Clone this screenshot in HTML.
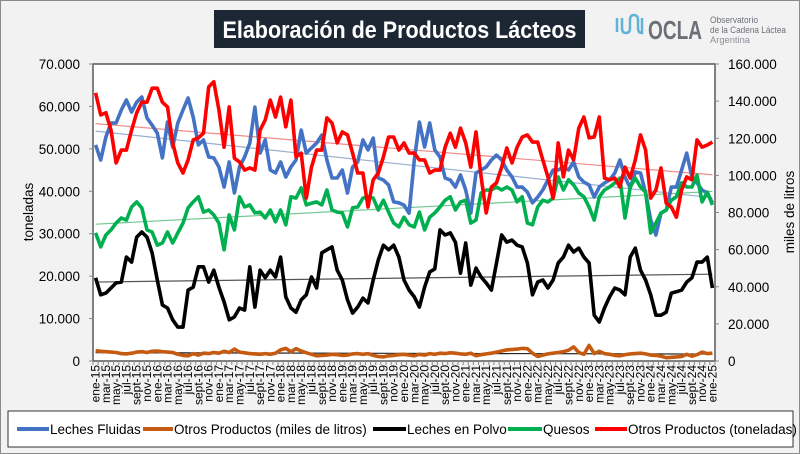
<!DOCTYPE html>
<html><head><meta charset="utf-8"><style>
html,body{margin:0;padding:0;background:#f2f2f2;}
svg{display:block;font-family:"Liberation Sans",sans-serif;}
</style></head><body>
<svg id="chart" width="800" height="454" viewBox="0 0 800 454" xmlns="http://www.w3.org/2000/svg">
<rect x="0.5" y="0.5" width="799" height="453" fill="#f2f2f2" stroke="#8a8a8a"/>
<g>
<rect x="214" y="10" width="371" height="38" fill="#1d2734"/>
<text x="399.5" y="38" text-anchor="middle" fill="#fff" font-size="24" font-weight="bold" textLength="354" lengthAdjust="spacingAndGlyphs">Elaboración de Productos Lácteos</text>
</g>
<g>
<path d="M617 18 v14 M622 18 v10 q0 5 4 5 q4 0 4 -5 v-8 q0 -5 4 -5 q4 0 4 5 v8 q0 5 4 5 v-15" stroke="#5fb3d9" stroke-width="2.5" fill="none"/>
<text x="648" y="39" font-size="26" font-weight="bold" fill="#6b7078" textLength="54" lengthAdjust="spacingAndGlyphs">OCLA</text>
<text x="710" y="23" font-size="9" fill="#6b7078" textLength="48" lengthAdjust="spacingAndGlyphs">Observatorio</text>
<text x="710" y="33" font-size="9" fill="#6b7078" textLength="76" lengthAdjust="spacingAndGlyphs">de la Cadena Láctea</text>
<text x="710" y="43" font-size="9" fill="#8a9098" textLength="40" lengthAdjust="spacingAndGlyphs">Argentina</text>
</g>
<rect x="93" y="64" width="622" height="297" fill="#fff" stroke="#595959" stroke-width="1.5"/>
<g id="axes"></g>
<g id="trends"></g>
<g id="series"></g>
<text transform="translate(33,212) rotate(-90)" text-anchor="middle" font-size="13.5" fill="#000">toneladas</text>
<text transform="translate(794,212) rotate(-90)" text-anchor="middle" font-size="13.5" fill="#000">miles de litros</text>
<g>
<rect x="8" y="411" width="785" height="36" fill="#fff" stroke="#333" stroke-width="1"/>
<g><line x1="17" y1="429" x2="49" y2="429" stroke="#4472C4" stroke-width="4"/><text x="50" y="434" font-size="13.5">Leches Fluidas</text></g>
<g><line x1="143" y1="429" x2="173" y2="429" stroke="#C55A11" stroke-width="4"/><text x="174" y="434" font-size="13.5">Otros Productos (miles de litros)</text></g>
<g><line x1="373" y1="429" x2="406" y2="429" stroke="#000" stroke-width="4"/><text x="407" y="434" font-size="13.5">Leches en Polvo</text></g>
<g><line x1="508" y1="429" x2="542" y2="429" stroke="#00B050" stroke-width="4"/><text x="543" y="434" font-size="13.5">Quesos</text></g>
<g><line x1="595" y1="429" x2="627" y2="429" stroke="#FF0000" stroke-width="4"/><text x="628" y="434" font-size="13.5">Otros Productos (toneladas)</text></g>
</g>
</svg>
<script>
const monthNames = ["ene","feb","mar","abr","may","jun","jul","ago","sept","oct","nov","dic"];
const leftTicks = [0,10000,20000,30000,40000,50000,60000,70000];
const rightTicks = [0,20000,40000,60000,80000,100000,120000,140000,160000];
// values in thousands
const lechesFluidas = [116.4,108.3,120.7,128.2,128.2,135.2,140.6,134.1,139.5,142.2,130.9,127.1,122.8,109.4,128.7,115.3,128.2,135.2,141.7,131.4,116.4,119.1,109.9,109.4,104.5,93.7,107.2,90.5,104.5,109.9,117.4,
136.8,112.0,119.1,102.9,101.3,107.2,99.1,104.5,108.3,124.4,112.0,114.8,117.4,121.7,108.3,98.6,98.6,102.9,90.5,104.5,107.2,119.1,113.7,120.1,98.6,97.5,94.8,85.7,85.2,84.0,
79.7,108.3,128.7,115.3,128.2,113.7,109.9,98.6,97.5,93.7,100.2,92.1,79.7,101.3,102.9,104.5,108.3,110.9,108.3,102.9,99.1,93.7,93.7,91.0,85.2,88.3,92.1,97.5,102.9,102.9,
104.5,102.9,107.2,99.1,96.4,94.8,88.3,93.7,95.9,97.5,101.3,108.3,99.1,93.2,101.8,101.3,90.5,76.0,67.9,79.7,81.3,93.7,93.7,102.9,112.0,99.1,95.9,92.1,90.5,85.2];
const otrosLitros = [5.5,5.2,5.0,4.8,4.6,4.0,3.8,4.2,4.8,5.0,4.6,5.2,
5.4,5.0,4.8,4.6,3.6,3.0,2.8,4.0,3.2,4.2,4.0,4.6,
4.2,5.2,4.6,6.4,4.8,4.4,4.0,3.8,3.6,4.0,3.6,4.2,
6.0,6.8,5.0,6.6,5.4,4.4,3.6,2.8,3.0,3.2,3.6,3.4,
3.0,3.2,3.8,4.0,3.6,4.0,3.0,2.4,2.2,2.8,3.0,3.4,
3.6,3.2,2.8,3.6,3.2,4.0,3.6,4.2,4.0,4.4,4.2,3.8,
3.6,4.2,2.8,3.4,3.8,4.2,4.8,5.4,6.0,6.2,6.4,6.8,
6.6,4.2,2.4,3.2,3.8,4.2,4.6,5.0,5.8,7.6,4.6,3.6,
8.4,4.0,5.2,4.0,3.6,3.0,2.8,3.4,3.8,4.0,4.2,3.8,
3.2,3.0,2.6,1.8,2.0,2.2,2.4,3.6,2.6,3.4,4.8,4.0,4.2];
const lechesPolvo = [19.6,15.6,16.0,17.2,18.4,18.6,24.5,23.3,29.2,30.4,29.2,25.5,19.1,13.2,12.5,9.7,8.0,8.0,16.7,17.4,22.2,22.2,18.6,21.4,17.4,13.9,9.7,10.4,12.5,12.0,22.2,
12.7,21.4,19.6,21.4,19.8,24.5,15.1,12.5,11.5,14.4,15.6,19.8,17.2,25.5,26.2,26.9,21.4,19.1,14.4,11.3,12.7,14.8,13.7,19.1,23.8,27.3,26.2,27.3,24.5,19.1,
16.7,15.1,12.7,17.4,21.0,21.7,30.9,29.7,30.2,28.0,20.7,27.8,17.9,21.9,19.8,18.4,16.7,23.1,29.7,28.0,28.5,27.3,26.9,23.1,15.6,18.6,19.1,17.2,19.1,23.1,
24.5,27.3,25.7,26.6,24.5,23.1,10.8,9.2,12.5,15.1,17.2,16.7,15.6,24.5,26.6,21.4,19.1,15.6,10.8,10.8,11.5,16.0,16.3,16.7,18.6,19.6,23.3,23.3,24.5,17.2];
const quesos = [30.2,26.9,29.7,30.9,32.5,33.7,33.2,36.3,37.5,36.1,30.9,30.4,27.3,27.8,30.4,27.8,30.2,32.5,36.1,37.5,38.7,35.1,35.6,34.4,32.5,26.2,34.4,30.9,38.7,36.3,36.8,
34.9,35.1,33.7,35.6,32.8,35.6,32.1,38.7,38.4,40.8,36.8,37.2,37.5,36.8,40.3,35.6,35.1,34.9,31.6,36.1,36.3,38.4,38.7,38.4,35.6,37.9,35.1,32.5,31.6,33.9,
32.1,31.6,35.1,30.9,33.9,34.9,36.3,37.9,38.7,35.6,37.5,37.9,32.5,33.2,39.6,40.3,40.3,41.0,40.3,41.0,40.3,37.5,38.7,32.5,32.1,36.3,37.9,37.5,38.4,43.4,
40.3,42.7,41.5,39.6,38.7,36.3,33.2,38.7,40.3,41.0,42.0,43.1,33.7,41.0,43.1,41.0,39.8,30.2,32.5,34.9,35.6,37.9,38.7,42.0,41.0,41.0,43.8,37.5,39.8,36.8];
const otrosToneladas = [63.2,58.0,58.5,54.4,46.7,49.7,49.7,54.4,58.5,61.0,61.0,64.3,64.3,61.0,59.9,51.4,46.7,44.3,47.4,52.1,52.6,53.7,64.6,65.8,59.2,50.4,59.9,47.8,46.9,45.0,45.5,
45.0,54.4,56.8,61.5,57.5,62.2,55.2,61.5,48.1,49.0,38.4,45.7,49.7,49.7,57.3,56.1,51.4,54.0,53.3,49.0,44.3,44.3,36.3,42.7,44.3,48.1,52.8,52.8,49.7,51.4,
49.0,49.0,47.4,47.4,44.3,45.0,45.0,50.4,53.7,50.4,54.9,51.4,45.7,54.0,43.4,34.9,41.0,42.0,45.7,50.2,46.7,50.4,52.8,53.3,51.6,51.6,47.4,43.4,38.4,51.4,
43.4,49.7,47.4,54.9,57.5,52.6,52.8,57.5,43.1,42.7,43.1,41.0,45.7,43.1,47.4,53.3,49.7,38.4,40.3,45.5,37.2,36.3,33.9,40.3,43.4,42.7,52.1,50.4,50.9,51.6];

const NS="http://www.w3.org/2000/svg";
const X0=93,X1=715,Y0=64,Y1=361;
const N=lechesFluidas.length;
const bw=(X1-X0)/N;
function xPos(i){return X0+bw*(i+0.5);}
function yLeft(v){return Y1-(v/70000)*(Y1-Y0);}
function yRight(v){return Y1-(v/160000)*(Y1-Y0);}
function mk(tag,attrs,parent){const e=document.createElementNS(NS,tag);for(const k in attrs)e.setAttribute(k,attrs[k]);parent.appendChild(e);return e;}
const axes=document.getElementById('axes');
function fmt(v){return v===0?"0":v.toLocaleString('de-DE');}
leftTicks.forEach(v=>{
  const y=yLeft(v);
  const t=mk('line',{x1:X0-4,x2:X0,y1:y,y2:y,stroke:'#888'},axes);
  
  
  const tx=mk('text',{x:80,y:y+5,'text-anchor':'end','font-size':'13.5'},axes);
  
  
  tx.textContent=fmt(v);
});
rightTicks.forEach(v=>{
  const y=yRight(v);
  const t=mk('line',{x1:X1,x2:X1+4,y1:y,y2:y,stroke:'#888'},axes);
  
  
  const tx=mk('text',{x:728,y:y+5,'text-anchor':'start','font-size':'13.5'},axes);
  
  
  tx.textContent=fmt(v);
});
for(let i=0;i<=N;i++){
  const x=X0+bw*i;
  const t=mk('line',{x1:x,x2:x,y1:Y1,y2:Y1+4,stroke:'#888'},axes);
  
  
}
for(let i=0;i<N;i+=2){
  const m=i%12, yr=15+Math.floor(i/12);
  const x=xPos(i)+4;
  const tx=mk('text',{transform:`translate(${x},365) rotate(-90)`,'text-anchor':'end','font-size':'12'},axes);
  
  
  tx.textContent=monthNames[m]+'-'+yr;
}
const series=[
  {d:lechesFluidas,s:1000,ax:yRight,c:'#4472C4',tc:'#9aaecf',n:'leches-fluidas'},
  {d:otrosLitros,s:1000,ax:yRight,c:'#C55A11',tc:'#222',n:'otros-productos-litros'},
  {d:lechesPolvo,s:1000,ax:yLeft,c:'#000',tc:'#555',n:'leches-en-polvo'},
  {d:quesos,s:1000,ax:yLeft,c:'#00B050',tc:'#70c890',n:'quesos'},
  {d:otrosToneladas,s:1000,ax:yLeft,c:'#FF0000',tc:'#f08a8a',n:'otros-productos-toneladas'}
];
const sg=document.getElementById('series'), tg=document.getElementById('trends');
series.forEach(o=>{
  const pts=o.d.map((v,i)=>xPos(i).toFixed(1)+','+o.ax(v*o.s).toFixed(1)).join(' ');
  const p=mk('polyline',{points:pts,fill:'none',stroke:o.c,'stroke-width':'3.6','stroke-linejoin':'round'},sg);
  
  
});
series.forEach(o=>{
  const n=o.d.length;let sx=0,sy=0,sxy=0,sxx=0;
  o.d.forEach((v,i)=>{sx+=i;sy+=v;sxy+=i*v;sxx+=i*i;});
  const b=(n*sxy-sx*sy)/(n*sxx-sx*sx), a=(sy-b*sx)/n;
  const l=mk('line',{x1:xPos(0),y1:o.ax(a*o.s),x2:xPos(n-1),y2:o.ax((a+b*(n-1))*o.s),stroke:o.tc,'stroke-width':'1.2'},tg);
  
  
});
</script>
</body></html>
